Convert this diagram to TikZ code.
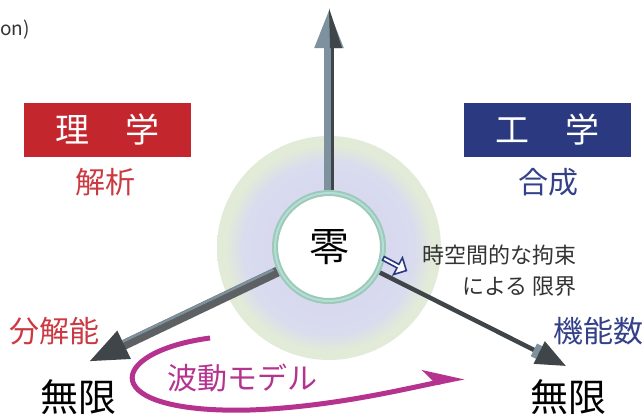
\documentclass[tikz,border=0pt]{standalone}
\usepackage{fontspec}
\setmainfont{Noto Sans CJK JP}
\usetikzlibrary{arrows.meta, positioning, shapes.arrows, calc}

\definecolor{rigaku}{HTML}{C4262E}
\definecolor{kogaku}{HTML}{2B3A80}
\definecolor{redtext}{HTML}{CB3A42}
\definecolor{bluetext}{HTML}{34418A}
\definecolor{hado}{HTML}{B5338E}
\definecolor{shaft}{HTML}{7D919E}
\definecolor{shaftdark}{HTML}{404549}
\definecolor{ringcol}{HTML}{9CCAB6}
\definecolor{ringlight}{HTML}{B4DCD8}
\definecolor{haloin}{HTML}{D4D4F0}
\definecolor{halomid}{HTML}{D9DBEF}
\definecolor{haloout}{HTML}{E2EAD8}
\pgfdeclareradialshading{halo}{\pgfpoint{0bp}{0bp}}{color(0bp)=(haloin); color(19bp)=(halomid); color(23bp)=(haloout); color(25bp)=(haloout); color(50bp)=(haloout)}

\begin{document}
\begin{tikzpicture}[x=1pt, y=-1pt,
    subject/.style={minimum width=167pt, minimum height=54pt, inner sep=0pt, text=white, font=\fontsize{34}{36}\selectfont},
    sublabel/.style={inner sep=0pt, font=\fontsize{30}{32}\selectfont},
    infinity/.style={inner sep=0pt, font=\fontsize{38}{40}\selectfont},
    note/.style={inner sep=0pt, align=right, font=\fontsize{22}{31}\selectfont, text=black!80}
]
    \useasboundingbox (0,0) rectangle (643,416);

    % Halo and centre
    \shade[shading=halo] (329,248) circle (112);
    \node[circle, draw=ringcol, line width=6pt, fill=white, minimum size=108pt, inner sep=0pt,
          font=\fontsize{40}{42}\selectfont] (zero) at (329,247) {零};
    \draw[ringlight, line width=2pt] (zero.center) circle (54);

    % Axis ends
    \coordinate (topend) at (329,8);
    \coordinate (leftend) at (88,362);
    \coordinate (rightend) at (566,366);

    % Axes
    \draw[shaft, line width=10pt, -{Triangle[length=40pt, width=26pt]}] (zero) -- (topend);
    \draw[shaftdark, line width=3pt] ([xshift=3.5pt]zero.north) -- ([xshift=3.5pt, yshift=-38pt]topend);
    \fill[shaftdark] (topend) -- ++(13,40) -- ++(-12,0) -- cycle;

    \draw[shaftdark!85!white, line width=10pt, -{Triangle[length=40pt, width=28pt, color=shaftdark]}] (zero) -- (leftend);
    \draw[shaft, line width=2.5pt] ($($(zero.center)!60pt!(leftend)$)+(-1.5,-3.2)$)
        -- ($($(leftend)!40pt!(zero.center)$)+(-1.5,-3.2)$);

    \draw[shaftdark, line width=4.5pt, -{Rectangle[length=6pt, width=14pt, color=shaft] Triangle[length=30pt, width=24pt]}] (zero) -- (rightend);

    % Subjects
    \node[subject, fill=rigaku] (rigaku) at (107.5,130) {理\hspace{36pt}学};
    \node[subject, fill=kogaku] (kogaku) at (547.5,130) {工\hspace{36pt}学};
    \node[sublabel, text=redtext] (kaiseki) at (105,182) {解析};
    \node[sublabel, text=bluetext] (gosei) at (548,182) {合成};

    % Ends
    \node[sublabel, text=redtext, anchor=west] (bunkai) at (9,331) {分解能};
    \node[sublabel, text=bluetext, anchor=west] (kinou) at (553,331) {機能数};
    \node[infinity] (mugenL) at (78,397) {無限};
    \node[infinity] (mugenR) at (568,397) {無限};

    % Limit note
    \node[single arrow, draw=kogaku, fill=white, line width=1.6pt, minimum height=26pt, minimum width=19pt,
          single arrow head extend=3pt, inner sep=0pt, rotate=-28] (limit) at (394,264) {};
    \node[note, anchor=north east] (limittext) at (577,245) {時空間的な拘束\\による 限界};

    % Wave model
    \coordinate (wavestart) at (210,338);
    \coordinate (waveend) at (464,377);
    \draw[hado, line width=5pt, -{Stealth[harpoon, length=34pt, width=30pt, inset=10pt]}]
        (wavestart) .. controls (105,352) and (95,414) .. (250,410)
        .. controls (330,407) and (400,390) .. (waveend);
    \node[sublabel, text=hado] (hado) at (242,378) {波動モデル};

    \node[inner sep=0pt, anchor=west, font=\fontsize{19}{20}\selectfont, text=black!80] (caption) at (0,30) {on)};
\end{tikzpicture}
\end{document}
